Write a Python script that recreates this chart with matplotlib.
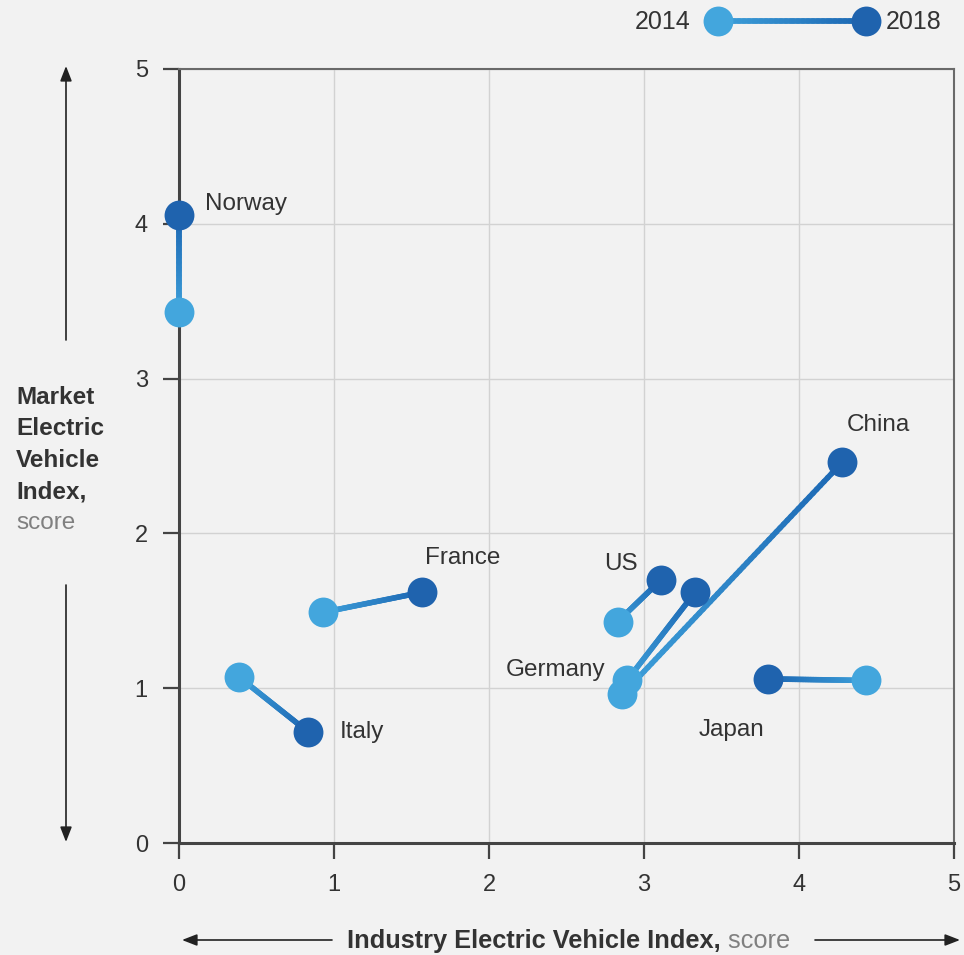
import numpy as np
import matplotlib
matplotlib.use("Agg")
import matplotlib.pyplot as plt
from matplotlib.collections import LineCollection
from matplotlib.colors import LinearSegmentedColormap

# data
countries = ["Norway", "France", "Italy", "US", "Germany", "China", "Japan"]
x_2014 = [0.00, 0.93, 0.39, 2.83, 2.89, 2.86, 4.43]
y_2014 = [3.43, 1.49, 1.07, 1.43, 1.05, 0.96, 1.05]
x_2018 = [0.00, 1.57, 0.83, 3.11, 3.33, 4.28, 3.80]
y_2018 = [4.06, 1.62, 0.72, 1.70, 1.62, 2.46, 1.06]
label_pos = {
    "Norway": (0.17, 4.13, "left"),
    "France": (1.59, 1.84, "left"),
    "Italy": (1.04, 0.72, "left"),
    "US": (2.74, 1.80, "left"),
    "Germany": (2.75, 1.12, "right"),
    "China": (4.31, 2.70, "left"),
    "Japan": (3.35, 0.73, "left"),
}
ticks = [0, 1, 2, 3, 4, 5]

LIGHT = "#43a6dd"
DARK = "#1f63ae"
TXT = "#333333"
BG = "#f2f2f2"
FONT = "Liberation Sans"
cmap = LinearSegmentedColormap.from_list("ev", ["#3ea0da", "#1c67b3"])

W, H = 964, 955
fig = plt.figure(figsize=(W / 100, H / 100), dpi=100, facecolor=BG)

# overlay in pixel coords for arrows, legend, axis titles
ov = fig.add_axes([0, 0, 1, 1])
ov.set_xlim(0, W)
ov.set_ylim(H, 0)
ov.axis("off")
ov.patch.set_visible(False)

ax = fig.add_axes([179 / W, (H - 843) / H, 775 / W, 774 / H])
ax.set_facecolor("none")
ax.set_xlim(0, 5)
ax.set_ylim(0, 5)
ax.set_xticks(ticks)
ax.set_yticks(ticks)
ax.grid(True, color="#d2d2d2", lw=1)
ax.set_axisbelow(True)
for s in ("left", "bottom"):
    ax.spines[s].set_color("#444444")
    ax.spines[s].set_linewidth(2.2)
for s in ("top", "right"):
    ax.spines[s].set_color("#6a6a6a")
    ax.spines[s].set_linewidth(1.5)
ax.tick_params(length=11.5, width=1.6, color="#444444", labelsize=17,
               labelcolor=TXT, pad=11)
for lab in ax.get_xticklabels() + ax.get_yticklabels():
    lab.set_family(FONT)


def gradient_line(a, x0, y0, x1, y1, lw=4.0, n=60, clip=True):
    t = np.linspace(0, 1, n + 1)
    xs = x0 + (x1 - x0) * t
    ys = y0 + (y1 - y0) * t
    pts = np.column_stack([xs, ys]).reshape(-1, 1, 2)
    segs = np.concatenate([pts[:-1], pts[1:]], axis=1)
    lc = LineCollection(segs, colors=cmap(t[:-1]), linewidths=lw,
                        capstyle="round", zorder=3)
    lc.set_clip_on(clip)
    a.add_collection(lc)


for i, c in enumerate(countries):
    gradient_line(ax, x_2014[i], y_2014[i], x_2018[i], y_2018[i], clip=False)
    ax.plot(x_2018[i], y_2018[i], "o", ms=21.5, color=DARK, mec="none",
            zorder=4, clip_on=False)
    ax.plot(x_2014[i], y_2014[i], "o", ms=21.5, color=LIGHT, mec="none",
            zorder=4, clip_on=False)
    lx, ly, ha = label_pos[c]
    ax.text(lx, ly, c, ha=ha, va="center", fontsize=17.5, color=TXT,
            family=FONT)

# legend
gradient_line(ov, 718, 21, 866, 21)
ov.plot(718, 21, "o", ms=21.5, color=LIGHT, mec="none", zorder=4)
ov.plot(866, 21, "o", ms=21.5, color=DARK, mec="none", zorder=4)
ov.text(690, 22, "2014", ha="right", va="center", fontsize=18, color=TXT,
        family=FONT)
ov.text(886, 22, "2018", ha="left", va="center", fontsize=18, color=TXT,
        family=FONT)

# y axis title
for k, line in enumerate(["Market", "Electric", "Vehicle", "Index,"]):
    ov.text(16, 397 + k * 31.5, line, ha="left", va="center", fontsize=17.5,
            fontweight="bold", color=TXT, family=FONT)
ov.text(16, 397 + 4 * 31.5, "score", ha="left", va="center", fontsize=17.5,
        color="#808080", family=FONT)

# x axis title
xt = ov.text(347, 941, "Industry Electric Vehicle Index,", ha="left",
             va="center", fontsize=18.3, fontweight="bold", color=TXT,
             family=FONT)
ov.annotate(" score", xy=(1, 0.5), xycoords=xt, ha="left", va="center",
            fontsize=18.3, color="#808080", family=FONT)

# arrows
ap = dict(arrowstyle="-|>,head_length=0.9,head_width=0.35", color="#222222",
          lw=1.2, shrinkA=0, shrinkB=0)
ov.annotate("", xy=(66, 66), xytext=(66, 340), arrowprops=ap)
ov.annotate("", xy=(66, 842), xytext=(66, 585), arrowprops=ap)
ov.annotate("", xy=(182, 940), xytext=(332, 940), arrowprops=ap)
ov.annotate("", xy=(960, 940), xytext=(815, 940), arrowprops=ap)

fig.savefig("out.png", dpi=100, facecolor=BG)
